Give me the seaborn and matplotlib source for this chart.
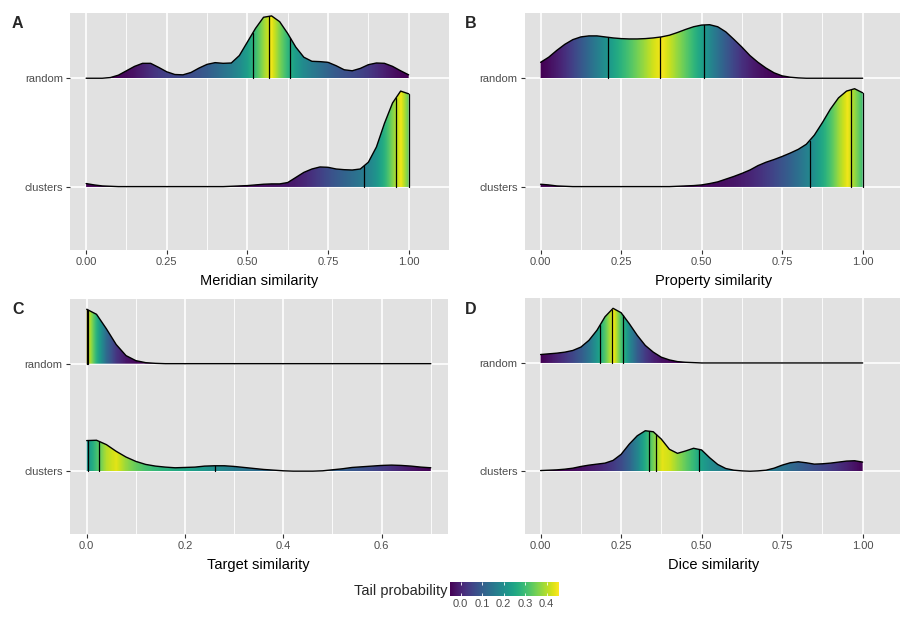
import numpy as np
import pandas as pd
import seaborn as sns
import matplotlib.pyplot as plt
from matplotlib.colors import Normalize

# ridge heights, in 1/321 of the spacing between rows
ROW = 321

x_01 = np.round(np.arange(0, 1.0001, 0.025), 3)
x_c = np.round(np.arange(0, 0.7001, 0.02), 3)

meridian_random = [0, 0, 0, 2, 9, 22, 35, 44, 44, 32, 19, 11, 10, 17, 30, 41, 46, 44, 45, 67,
                   107, 147, 180, 184, 167, 132, 92, 62, 50, 49, 47, 37, 25, 22, 29, 40, 45, 44, 35, 22, 10]
meridian_clusters = [10, 6, 3, 2, 1, 1, 1, 1, 1, 1, 1, 1, 1, 1, 1, 1, 1, 1, 2, 3,
                     4, 6, 8, 9, 9, 13, 28, 43, 53, 59, 58, 53, 51, 50, 53, 73, 118, 188, 248, 283, 275]
property_random = [47, 62, 82, 100, 114, 122, 125, 125, 122, 119, 117, 116, 116, 117, 119, 122, 127, 135, 144, 152,
                   157, 158, 152, 137, 115, 92, 67, 47, 30, 16, 7, 3, 1, 0, 0, 0, 0, 0, 0, 0, 0]
property_clusters = [8, 6, 3, 2, 1, 1, 1, 1, 1, 1, 1, 1, 1, 1, 1, 1, 1, 2, 3, 4,
                     6, 10, 15, 23, 31, 40, 50, 63, 73, 81, 90, 100, 111, 126, 153, 190, 230, 263, 283, 290, 278]
target_random = [162, 147, 104, 57, 24, 9, 3, 1, 0, 0, 0, 0, 0, 0, 0, 0, 0, 0,
                 0, 0, 0, 0, 0, 0, 0, 0, 0, 0, 0, 0, 0, 0, 0, 0, 0, 0]
target_clusters = [92, 93, 80, 60, 43, 30, 21, 16, 13, 11, 12, 13, 16, 17, 17, 15, 12, 9,
                   6, 4, 2, 1, 1, 1, 2, 5, 8, 12, 14, 16, 18, 19, 18, 16, 13, 11]
dice_random = [25, 27, 29, 32, 37, 47, 67, 97, 137, 162, 149, 117, 82, 52, 32, 17, 9, 4, 2, 1,
               0, 0, 0, 0, 0, 0, 0, 0, 0, 0, 0, 0, 0, 0, 0, 0, 0, 0, 0, 0, 0]
dice_clusters = [2, 3, 4, 6, 9, 14, 18, 21, 24, 32, 50, 80, 105, 120, 117, 95, 65, 53, 60, 68,
                 63, 40, 20, 8, 3, 1, 0, 1, 3, 9, 18, 25, 28, 25, 21, 22, 24, 27, 30, 31, 27]

# quartile lines
q_meridian = {"random": [0.516, 0.566, 0.633], "clusters": [0.86, 0.96, 1.0]}
q_property = {"random": [0.21, 0.37, 0.506], "clusters": [0.835, 0.963, 1.0]}
q_target = {"random": [0.0, 0.0, 0.002], "clusters": [0.003, 0.025, 0.262]}
q_dice = {"random": [0.185, 0.221, 0.256], "clusters": [0.336, 0.359, 0.493]}

# share of values sitting exactly on the lower / upper bound
atoms_meridian = {"random": (0, 0), "clusters": (0, 0.38)}
atoms_property = {"random": (0, 0), "clusters": (0, 0.33)}
atoms_target = {"random": (0.5, 0), "clusters": (0.25, 0)}
atoms_dice = {"random": (0, 0), "clusters": (0, 0)}

groups = ["clusters", "random"]
ticks_01 = [0, 0.25, 0.5, 0.75, 1.0]
labels_01 = ["0.00", "0.25", "0.50", "0.75", "1.00"]
ticks_c = [0, 0.2, 0.4, 0.6]
labels_c = ["0.0", "0.2", "0.4", "0.6"]
legend_ticks = [0.0, 0.1, 0.2, 0.3, 0.4]

sns.set_theme(style="darkgrid", rc={
    "axes.facecolor": "#E1E1E1",
    "grid.color": "white",
    "xtick.bottom": True, "ytick.left": True,
    "xtick.major.size": 3, "ytick.major.size": 3,
    "xtick.major.width": 0.8, "ytick.major.width": 0.8,
    "xtick.color": "#333333", "ytick.color": "#333333",
    "xtick.labelcolor": "#4D4D4D", "ytick.labelcolor": "#4D4D4D",
    "xtick.labelsize": 8, "ytick.labelsize": 8,
    "xtick.major.pad": 2, "ytick.major.pad": 2,
})
plt.rcParams["font.family"] = ["Liberation Sans", "DejaVu Sans"]

W, H = 900, 621
fig = plt.figure(figsize=(9, 6.21), dpi=100)
norm = Normalize(0, 0.5)


def px_axes(l, t, r, b):
    return fig.add_axes([l / W, 1 - b / H, (r - l) / W, (b - t) / H])


def draw_ridge(ax, x, h, base, qs, atoms):
    dens = np.asarray(h, dtype=float) / ROW
    top = base + dens
    cum = np.concatenate([[0], np.cumsum((dens[1:] + dens[:-1]) / 2 * np.diff(x))])
    lo, hi = atoms
    ecdf = lo + (1 - lo - hi) * cum / cum[-1]
    tail = 0.5 - np.abs(ecdf - 0.5)
    poly = ax.fill_between(x, base, top, facecolor="none", edgecolor="none")
    dx = x[1] - x[0]
    img = ax.imshow(tail[np.newaxis, :], cmap="viridis", norm=norm, aspect="auto",
                    interpolation="bilinear", interpolation_stage="data",
                    extent=[x[0] - dx / 2, x[-1] + dx / 2, base, base + dens.max()], zorder=2)
    img.set_clip_path(poly.get_paths()[0], transform=ax.transData)
    for q in qs:
        ax.plot([q, q], [base, base + np.interp(q, x, dens)], color="black", lw=0.9, zorder=3)
    df = pd.DataFrame({"x": x, "y": top})
    sns.lineplot(data=df, x="x", y="y", ax=ax, color="black", lw=1.0, zorder=4)


panels = [
    ("A", (70, 13, 449, 250), x_01, meridian_clusters, meridian_random, q_meridian, atoms_meridian,
     "Meridian similarity", ticks_01, labels_01, (-0.05, 1.05)),
    ("B", (524.5, 13, 902.9, 250), x_01, property_clusters, property_random, q_property, atoms_property,
     "Property similarity", ticks_01, labels_01, (-0.05, 1.05)),
    ("C", (69.5, 299, 448, 534), x_c, target_clusters, target_random, q_target, atoms_target,
     "Target similarity", ticks_c, labels_c, (-0.035, 0.735)),
    ("D", (524.5, 298, 902.9, 534), x_01, dice_clusters, dice_random, q_dice, atoms_dice,
     "Dice similarity", ticks_01, labels_01, (-0.05, 1.05)),
]

for letter, box, x, h_clu, h_ran, qs, atoms, xlabel, ticks, labels, xlim in panels:
    ax = px_axes(*box)
    draw_ridge(ax, x, h_ran, 2, qs["random"], atoms["random"])
    draw_ridge(ax, x, h_clu, 1, qs["clusters"], atoms["clusters"])
    ax.set_xlim(*xlim)
    ax.set_ylim(0.42, 2.6)
    ax.set_xticks(ticks)
    ax.set_xticklabels(labels)
    step = ticks[1] - ticks[0]
    ax.set_xticks([t + step / 2 for t in ticks], minor=True)
    ax.set_yticks([1, 2])
    ax.set_yticklabels(groups)
    ax.tick_params(which="minor", length=0)
    ax.grid(which="major", color="white", lw=1.2)
    ax.grid(which="minor", axis="x", color="white", lw=0.6)
    ax.set_axisbelow(True)
    for s in ax.spines.values():
        s.set_visible(False)
    ax.set_xlabel(xlabel, fontsize=10.5, color="black", labelpad=5)
    ax.set_ylabel("")
    lx = 12 if letter in "AC" else 465
    ly = 28 if letter in "AB" else 314
    fig.text(lx / W, 1 - ly / H, letter, fontsize=11.5, fontweight="bold", va="baseline")

# colour bar legend
cax = fig.add_axes([450 / W, 1 - 596 / H, 109 / W, 14 / H])
grad = np.linspace(0, 1, 256)[np.newaxis, :]
cax.imshow(grad, cmap="viridis", aspect="auto", extent=[-0.05, 0.457, 0, 1])
cax.vlines(legend_ticks, 0, 0.2, color="white", lw=0.6)
cax.vlines(legend_ticks, 0.8, 1, color="white", lw=0.6)
cax.set_xlim(-0.05, 0.457)
cax.set_ylim(0, 1)
cax.set_xticks(legend_ticks)
cax.set_xticklabels([f"{t:.1f}" for t in legend_ticks])
cax.set_yticks([])
cax.tick_params(axis="x", length=0, pad=2, labelsize=8)
cax.grid(False)
for s in cax.spines.values():
    s.set_visible(False)
fig.text(448 / W, 1 - 595 / H, "Tail probability", fontsize=10.5, ha="right", va="baseline")

fig.savefig("out.png", dpi=100)
